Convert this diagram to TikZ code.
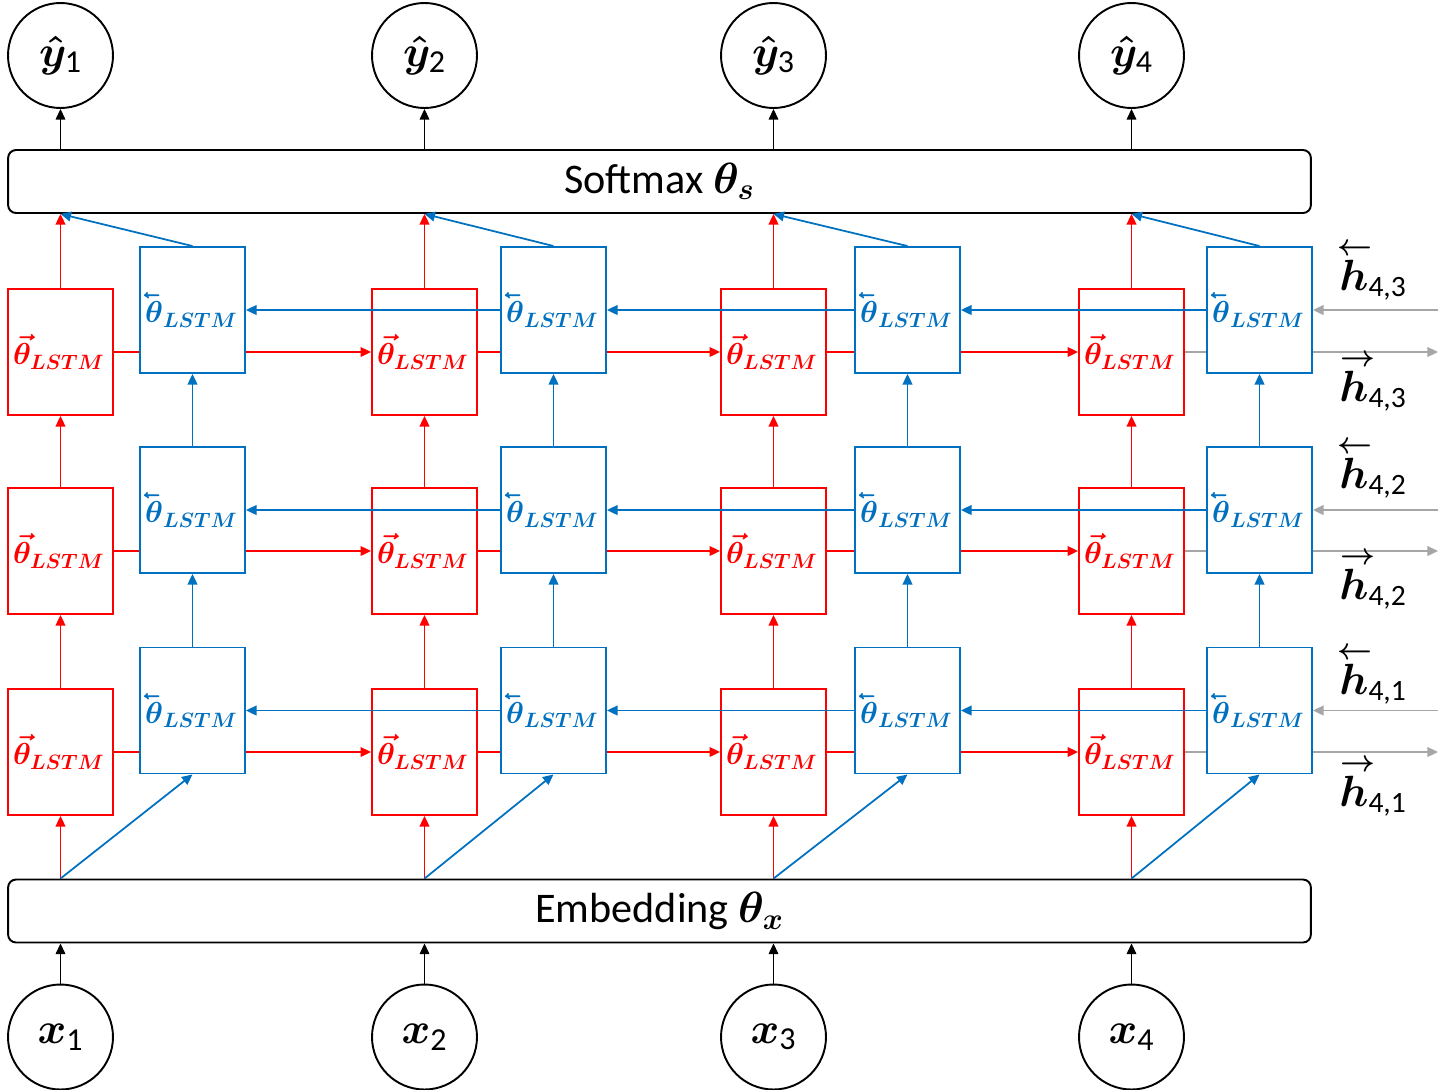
\documentclass[tikz,border=0pt]{standalone}
\usepackage{amsmath}
\usepackage{graphicx}
\usepackage{fontspec}
\setmainfont{Carlito}
\usetikzlibrary{arrows.meta}
\definecolor{rc}{RGB}{255,0,0}
\definecolor{bc}{RGB}{0,112,192}
\definecolor{gc}{RGB}{166,166,166}
\newcommand{\lstmsub}{_{\scalebox{0.82}{$\scriptstyle LSTM$}}}
\newcommand{\fth}{\vec{\theta}\lstmsub}
\newcommand{\bth}{\reflectbox{$\vec{\reflectbox{$\theta$}}$}\lstmsub}
\newcommand{\hb}[1]{\mathord{\rlap{\hspace{-0.04em}\raisebox{0.83em}{$\scriptstyle\leftarrow$}}h}_{\textrm{#1}}}
\newcommand{\hf}[1]{\mathord{\rlap{\hspace{0.02em}\raisebox{0.83em}{$\scriptstyle\rightarrow$}}h}_{\textrm{#1}}}
\begin{document}
\begin{tikzpicture}[x=0.02cm,y=-0.02cm,
  rbox/.style={draw=rc,line width=1.1pt,fill=white,text=rc,text width=1.9cm,inner xsep=0.1cm,inner ysep=0pt,minimum height=2.52cm,align=left,font=\fontsize{19}{22}\selectfont\boldmath},
  bbox/.style={draw=bc,line width=1.1pt,fill=white,text=bc,text width=1.9cm,inner xsep=0.1cm,inner ysep=0pt,minimum height=2.52cm,align=left,font=\fontsize{19}{22}\selectfont\boldmath},
  bar/.style={draw=black,line width=1.1pt,rounded corners=4.5pt,fill=white,minimum width=26.06cm,minimum height=1.26cm,inner sep=0pt,font=\fontsize{24}{28}\selectfont\boldmath},
  io/.style={draw=black,line width=1.1pt,circle,minimum size=2.1cm,inner sep=0pt,font=\fontsize{26}{30}\selectfont\boldmath},
  tip/.style={-{Triangle[length=6pt,width=5.5pt]}},
  rarr/.style={tip,draw=rc,line width=1pt},
  barr/.style={tip,draw=bc,line width=1pt},
  garr/.style={tip,draw=gc,line width=1pt},
  karr/.style={tip,draw=black,line width=0.6pt},
  hlab/.style={font=\fontsize{24}{28}\selectfont\boldmath,inner sep=0pt}]
\useasboundingbox (0,0) rectangle (1450,1089);

% bars
\node[bar] (sm) at (659.5,181.5) {Softmax $\theta_s$};
\node[bar] (emb) at (659.5,911) {Embedding $\theta_x$};

% io circles
\foreach \c/\xr in {1/60.5,2/424.5,3/773.5,4/1131.5}{
  \node[io] (y\c) at (\xr,55.5) {$\hat{y}_{\textrm{\c}}$};
  \node[io] (x\c) at (\xr,1037) {$x_{\textrm{\c}}$};
  \draw[karr] (sm.north -| y\c) -- (y\c.south);
  \draw[karr] (x\c.north) -- (x\c |- emb.south);
}

% red boxes
\foreach \c/\xr in {1/60.5,2/424.5,3/773.5,4/1131.5}{
  \foreach \l/\yr in {1/752,2/551,3/352}{
    \node[rbox] (r\c-\l) at (\xr,\yr) {$\fth$};
  }
}
% right-end coordinates
\foreach \l/\yr/\yb in {1/752/710.5,2/551/510,3/352/310}{
  \coordinate (fo\l) at (1438,\yr);
  \coordinate (bi\l) at (1438,\yb);
}
% red horizontal
\foreach \l in {1,2,3}{
  \draw[rarr] (r1-\l.east) -- (r2-\l.west);
  \draw[rarr] (r2-\l.east) -- (r3-\l.west);
  \draw[rarr] (r3-\l.east) -- (r4-\l.west);
  \draw[garr] (r4-\l.east) -- (fo\l);
}
% blue boxes
\foreach \c/\xb in {1/192.5,2/553.5,3/907.5,4/1259.5}{
  \foreach \l/\yb in {1/710.5,2/510,3/310}{
    \node[bbox] (b\c-\l) at (\xb,\yb) {$\bth$};
  }
}
% blue horizontal
\foreach \l in {1,2,3}{
  \draw[barr] (b2-\l.west) -- (b1-\l.east);
  \draw[barr] (b3-\l.west) -- (b2-\l.east);
  \draw[barr] (b4-\l.west) -- (b3-\l.east);
  \draw[garr] (bi\l) -- (b4-\l.east);
}
% vertical connections
\foreach \c in {1,2,3,4}{
  \coordinate (e\c) at (r\c-1 |- emb.north);
  \coordinate (s\c) at (r\c-3 |- sm.south);
  \draw[rarr] (e\c) -- (r\c-1.south);
  \draw[rarr] (r\c-1.north) -- (r\c-2.south);
  \draw[rarr] (r\c-2.north) -- (r\c-3.south);
  \draw[rarr] (r\c-3.north) -- (s\c);
  \draw[barr] (e\c) -- (b\c-1.south);
  \draw[barr] (b\c-1.north) -- (b\c-2.south);
  \draw[barr] (b\c-2.north) -- (b\c-3.south);
  \draw[barr] (b\c-3.north) -- (s\c);
}

% h labels
\node[hlab] (hb3) at (1373,272) {$\hb{4,3}$};
\node[hlab] (hf3) at (1373,383) {$\hf{4,3}$};
\node[hlab] (hb2) at (1373,470) {$\hb{4,2}$};
\node[hlab] (hf2) at (1373,581) {$\hf{4,2}$};
\node[hlab] (hb1) at (1373,676) {$\hb{4,1}$};
\node[hlab] (hf1) at (1373,788) {$\hf{4,1}$};
\end{tikzpicture}
\end{document}
